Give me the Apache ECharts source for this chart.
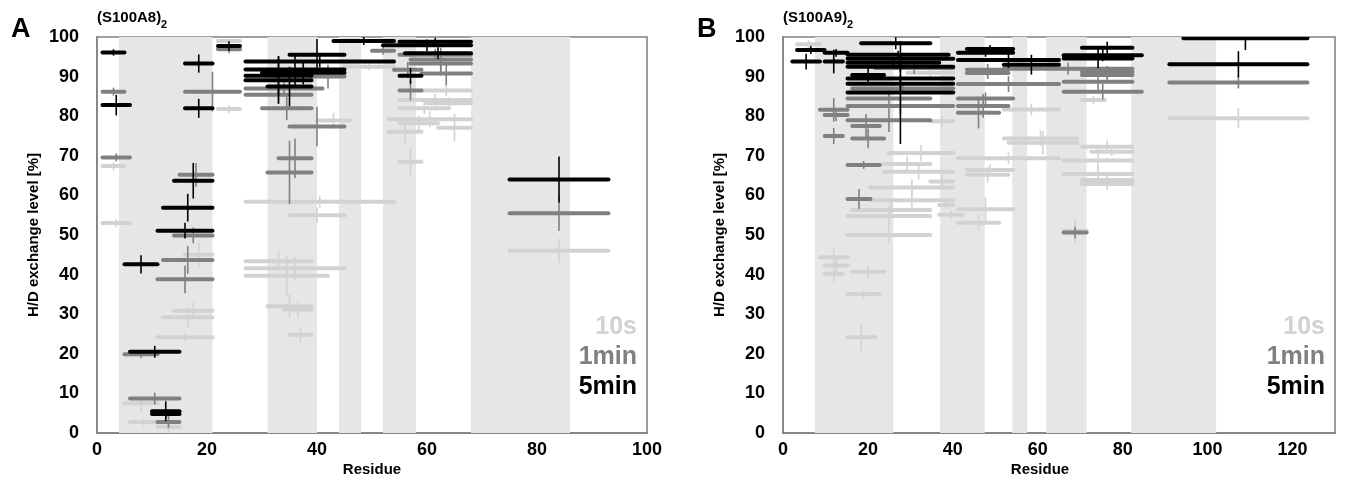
<!DOCTYPE html>
<html>
<head>
<meta charset="utf-8">
<script src="https://cdn.jsdelivr.net/npm/echarts@6/dist/echarts.min.js"></script>
<style>
  html, body { margin: 0; padding: 0; background: #fff; }
  #chart { width: 1350px; height: 491px; }
</style>
</head>
<body>
<div id="chart"></div>
<script>
// Peptide segments: [first residue, last residue, H/D exchange level %, error]
const a8_10s = [
  [1,5,67.4,1],[1,6,53,1],[16,21,45,3],[14,21,30.9,2],[12,21,29.2,2.5],[11,21,24.2,1],
  [5,11,7.5,2],[6,11,2.8,1],[11,15,1.6,1.5],[22,26,99,0.5],[22,26,81.8,1],
  [27,54,58.4,1.5],[35,45,55,2],[27,39,43.4,2.5],[27,45,41.6,3],[27,42,39.7,5],
  [31,39,32,3],[34,39,31.2,2],[35,39,24.8,2],[40,46,78.9,2],[45,54,92.5,1],
  [59,68,86.5,1.5],[55,68,84.1,1.5],[60,68,83.3,1.5],[55,64,82,1.5],[53,68,79.2,2],
  [55,62,78.2,2],[62,68,77.1,3.5],[53,59,76.1,3],[55,59,68.5,3.3],[75,93,46,3]
];
const a8_1min = [
  [1,5,86.2,1],[1,6,69.6,1],[16,26,86.2,5],[22,26,96.9,1],[15,21,65.2,3],[14,21,49.9,2],
  [12,21,43.7,3.5],[11,21,38.8,3.5],[5,11,19.9,1],[6,15,8.7,1.5],[11,15,2.8,1.5],
  [50,54,96.5,1],[55,68,95.5,1.5],[57,68,94.3,3],[57,68,93.3,3],[54,59,91.7,2],
  [59,68,90.8,3],[55,59,86.5,2.5],[39,45,90,3],[27,41,87,2],[27,39,85.4,2],[30,39,82,3],
  [35,45,77.4,5],[33,39,69.4,5],[31,39,65.8,8],[75,93,55.5,4.5]
];
const a8_5min = [
  [1,5,96.1,0.8],[1,6,82.8,2.6],[16,21,93.3,2.3],[16,21,82,2.4],[22,26,97.7,1.2],
  [14,21,63.7,4.5],[12,21,56.9,3.5],[11,21,51.1,2],[5,11,42.6,2.3],[6,15,20.5,1.5],
  [10,15,5.5,2.5],[10,15,4.8,1],[43,54,99,1],[55,68,98.8,1],[52,68,97.9,1.5],
  [56,68,95.9,1.5],[35,45,95.5,4],[27,54,93.8,1.5],[27,45,91.8,4],[30,45,91,3],
  [27,39,90.2,5],[27,39,89.1,6],[31,39,87.5,5],[55,59,90.2,2],[75,93,64,5.8]
];

const a9_10s = [
  [3.3,8.7,98.2,1],[29.3,40.1,91,1],[34.7,40.1,78.7,1.5],[24.9,40.1,70.7,2],[23.8,34.7,67.9,2],
  [23.8,40.1,66,2],[34.7,40.1,63.5,1.5],[20.6,40.1,62,2],[20.6,40.1,58.8,2.5],[16.3,34.7,56.3,2],
  [15.2,34.7,54.8,2.5],[15.2,34.7,50,2],[8.7,15.2,44.4,2.5],[9.8,15.2,42.3,2],[9.8,14.1,40.2,2],
  [16.3,23.8,40.7,1.5],[15.2,22.8,35.1,1],[15.2,21.7,24.2,3.5],[70.4,75.8,84.1,1],[52,65,81.7,1.5],
  [52,69.3,74.4,2],[53.1,69.3,73.3,3],[70.4,82.3,72.3,1.5],[72.6,82.3,71,1],[41.2,65,69.4,1.5],
  [66.1,82.3,68.8,3],[43.3,54.2,66.4,1.5],[66.1,82.3,65.4,2],[43.3,53.1,65.2,2],[70.4,82.3,63.9,1.5],
  [70.4,82.3,62.9,1.5],[41.2,54.2,56.5,3],[36.8,42.3,55.1,1],[41.2,50.9,53.1,2],[36.8,40.1,57.6,1],
  [66.1,71.5,51,3],[91,123.5,79.5,2.5]
];
const a9_1min = [
  [21.7,40.1,92.2,1.5],[16.3,40.1,87,1.5],[15.2,34.7,84.5,2],[15.2,40.1,82.6,2],[8.7,15.2,81.6,3],
  [9.8,15.2,80.3,1.5],[15.2,34.7,79,3],[16.3,22.8,77.5,3],[9.8,14.1,75,2],[16.3,23.8,74.4,2.5],
  [15.2,22.8,67.7,1],[15.2,20.6,59.1,2.5],[43.3,53.1,91.7,1.5],[43.3,53.1,90.9,1.5],[52,82.3,92,1.5],
  [70.4,82.3,91.2,1.5],[70.4,82.3,90.4,1.5],[66.1,82.3,88.7,2],[41.2,65,88.1,2],[66.1,84.5,86.2,2],
  [41.2,54.2,84.5,1.5],[41.2,53.1,82.6,3],[41.2,50.9,80.9,4],[66.1,71.5,50.6,1.5],[91,123.5,88.5,1.5]
];
const a9_5min = [
  [3.3,9.8,96.7,1],[9.8,15.2,96,1],[2.2,8.7,93.8,2],[9.8,14.1,93.8,3],[18.4,34.7,98.4,1.5],
  [15.2,39,95.5,1],[15.2,40.1,94.5,1.5],[15.2,36.8,93.5,1],[15.2,40.1,92.5,1.5],[16.3,23.8,90.4,2],
  [15.2,40.1,89.5,1],[15.2,40.1,88.2,1.5],[15.2,40.1,86,13],[43.3,54.2,97,1],[41.2,54.2,96,1],
  [41.2,65,94.2,2],[52,65,93,2.5],[70.4,82.3,97.3,1.5],[66.1,84.5,95.4,1.5],[66.1,82.3,94.6,2.5],
  [94.3,123.5,99.7,3],[91,123.5,93.1,3.3]
];

// Shaded residue ranges
const bandsA = [[4,21],[31,40],[44,48],[52,58],[68,86]];
const bandsB = [[7.5,26],[37,47.5],[54,57.5],[62,71.5],[82,102]];

const xTicksA = { min: 0, max: 100, interval: 20 };
const xTicksB = { min: 0, max: 130, interval: 20 };
const yTicks = { min: 0, max: 100, interval: 10 };

const FONT = '"Liberation Sans", Arial, sans-serif';
const C10 = '#d2d2d2', C1 = '#808080', C5 = '#000000';

function bandSeries(bands, idx) {
  return {
    type: 'custom', xAxisIndex: idx, yAxisIndex: idx, silent: true, z: 1,
    data: bands,
    renderItem(params, api) {
      const p0 = api.coord([api.value(0), 100]);
      const p1 = api.coord([api.value(1), 0]);
      return { type: 'rect', shape: { x: p0[0], y: p0[1], width: p1[0] - p0[0], height: p1[1] - p0[1] },
               style: { fill: '#e6e6e6' } };
    }
  };
}

function segSeries(data, idx, color, z) {
  return {
    type: 'custom', xAxisIndex: idx, yAxisIndex: idx, z: z, silent: true,
    clip: true,
    data: data,
    renderItem(params, api) {
      const s = api.value(0), e = api.value(1), v = api.value(2), err = api.value(3);
      const a = api.coord([s, v]);
      const b = api.coord([e, v]);
      const m = (s + e) / 2;
      const t = api.coord([m, Math.min(100, v + err)]);
      const d = api.coord([m, v - err]);
      return { type: 'group', children: [
        { type: 'line', shape: { x1: a[0], y1: a[1], x2: b[0], y2: b[1] },
          style: { stroke: color, lineWidth: 4, lineCap: 'round' } },
        { type: 'line', shape: { x1: t[0], y1: t[1], x2: d[0], y2: d[1] },
          style: { stroke: color, lineWidth: 1.6 } }
      ] };
    }
  };
}

function xAxis(idx, ticks) {
  return {
    type: 'value', gridIndex: idx, min: ticks.min, max: ticks.max, interval: ticks.interval,
    axisLine: { show: true, lineStyle: { color: '#808080', width: 1.5 } },
    axisTick: { show: false }, splitLine: { show: false },
    axisLabel: { fontFamily: FONT, fontWeight: 'bold', fontSize: 18, color: '#000', margin: 8,
                 showMaxLabel: ticks.max % ticks.interval === 0 }
  };
}
function yAxis(idx) {
  return {
    type: 'value', gridIndex: idx, min: yTicks.min, max: yTicks.max, interval: yTicks.interval,
    name: 'H/D exchange level [%]', nameLocation: 'middle', nameGap: 56,
    nameTextStyle: { fontFamily: FONT, fontWeight: 'bold', fontSize: 15, color: '#000' },
    axisLine: { show: true, lineStyle: { color: '#808080', width: 1.5 } },
    axisTick: { show: false }, splitLine: { show: false },
    axisLabel: { fontFamily: FONT, fontWeight: 'bold', fontSize: 18, color: '#000', margin: 18 }
  };
}

function txt(x, y, text, size, color, align) {
  return { type: 'text', x: x, y: y, z: 100,
    style: { text: text, font: 'bold ' + size + 'px ' + FONT, fill: color || '#000', textAlign: align || 'left', textVerticalAlign: 'top' } };
}

const chart = echarts.init(document.getElementById('chart'), null, { renderer: 'canvas' });
chart.setOption({
  animation: false,
  backgroundColor: '#fff',
  grid: [
    { left: 97, top: 37, width: 550, height: 396, show: true, borderColor: '#808080', borderWidth: 1.5, backgroundColor: 'transparent' },
    { left: 783, top: 37, width: 552, height: 396, show: true, borderColor: '#808080', borderWidth: 1.5, backgroundColor: 'transparent' }
  ],
  xAxis: [xAxis(0, xTicksA), xAxis(1, xTicksB)],
  yAxis: [yAxis(0), yAxis(1)],
  series: [
    bandSeries(bandsA, 0), bandSeries(bandsB, 1),
    segSeries(a8_10s, 0, C10, 2), segSeries(a8_1min, 0, C1, 3), segSeries(a8_5min, 0, C5, 4),
    segSeries(a9_10s, 1, C10, 2), segSeries(a9_1min, 1, C1, 3), segSeries(a9_5min, 1, C5, 4)
  ],
  graphic: [
    txt(11, 16, 'A', 27), txt(697, 16, 'B', 27),
    txt(97, 10, '(S100A8)', 15), txt(161, 19, '2', 11),
    txt(783, 10, '(S100A9)', 15), txt(847, 19, '2', 11),
    txt(372, 462, 'Residue', 15, '#000', 'center'),
    txt(1040, 462, 'Residue', 15, '#000', 'center'),
    txt(637, 315, '10s', 25, C10, 'right'), txt(637, 345, '1min', 25, C1, 'right'), txt(637, 375, '5min', 25, C5, 'right'),
    txt(1325, 315, '10s', 25, C10, 'right'), txt(1325, 345, '1min', 25, C1, 'right'), txt(1325, 375, '5min', 25, C5, 'right')
  ]
});
</script>
</body>
</html>
